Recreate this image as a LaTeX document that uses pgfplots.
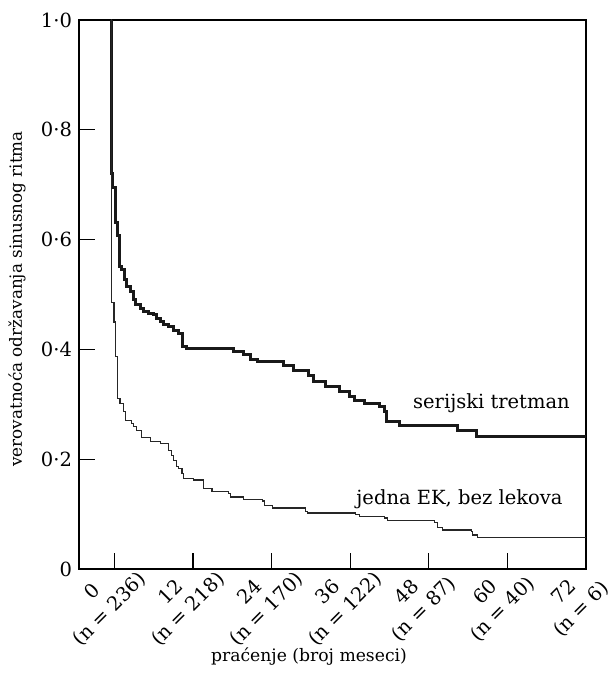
\documentclass[border=0pt]{standalone}
\usepackage{fontspec}
\setmainfont{DejaVu Serif}
\usepackage{pgfplots}
\pgfplotsset{compat=1.18}
\usetikzlibrary{calc}

\newcommand{\chartfont}{\fontsize{9.75pt}{12pt}\selectfont}

\begin{document}
\begin{tikzpicture}
\begin{axis}[
    scale only axis,
    width=253.5pt,
    height=274.5pt,
    xmin=-5.4, xmax=72,
    ymin=0, ymax=1,
    axis line style={line width=0.6pt},
    tick style={line width=0.6pt, black},
    tick align=inside,
    major tick length=8pt,
    xtick pos=left,
    ytick pos=left,
    xtick={0,12,24,36,48,60,72},
    xticklabels={{0\\(n = 236)},{12\\(n = 218)},{24\\(n = 170)},{36\\(n = 122)},{48\\(n = 87)},{60\\(n = 40)},{72\\(n = 6)}},
    ytick={0,0.2,0.4,0.6,0.8,1},
    yticklabels={0,0·2,0·4,0·6,0·8,1·0},
    tick label style={font=\chartfont},
    xticklabel style={xshift=-6.5pt, yshift=-16pt, rotate=45, anchor=center, align=center},
    xlabel={praćenje (broj meseci)},
    xlabel style={font=\fontsize{8.6pt}{11pt}\selectfont, at={(axis description cs:0.4536,0)}, anchor=base, yshift=-46pt},
    ylabel={verovatnoća održavanja sinusnog ritma},
    ylabel style={font=\fontsize{8.4pt}{11pt}\selectfont, at={(axis description cs:-0.1223,0.492)}, anchor=center},
    clip=false,
]
% serijski tretman
\addplot[const plot, line width=1.5pt, black!90] coordinates {
    (-0.45,1.0) (-0.45,0.720) (-0.3,0.694) (0.1,0.631) (0.5,0.608) (0.74,0.551)
    (1.12,0.545) (1.53,0.527) (1.88,0.514) (2.40,0.505) (2.91,0.490) (3.26,0.481)
    (3.94,0.475) (4.44,0.469) (5.21,0.466) (5.97,0.463) (6.48,0.457) (7.0,0.450)
    (7.5,0.446) (8.27,0.441) (9.04,0.435) (9.80,0.429) (10.41,0.405) (11.07,0.402)
    (18.22,0.396) (19.75,0.390) (20.78,0.381) (21.79,0.378) (25.88,0.370) (27.41,0.361)
    (29.71,0.353) (30.47,0.341) (32.27,0.332) (34.30,0.323) (35.83,0.314) (36.6,0.307)
    (38.13,0.301) (40.43,0.296) (41.19,0.287) (41.55,0.268) (43.49,0.262) (52.42,0.252)
    (55.24,0.242) (72,0.242)
};
% jedna EK, bez lekova
\addplot[const plot, line width=0.6pt, black!85] coordinates {
    (-0.45,1.0) (-0.41,0.485) (-0.05,0.450) (0.2,0.387) (0.46,0.311) (0.87,0.302)
    (1.38,0.287) (1.73,0.271) (2.56,0.265) (2.91,0.259) (3.41,0.252) (4.18,0.240)
    (5.47,0.232) (7.0,0.229) (8.27,0.216) (8.77,0.207) (9.04,0.198) (9.54,0.186)
    (9.80,0.183) (10.31,0.174) (10.57,0.165) (12.10,0.162) (13.63,0.147) (14.9,0.141)
    (17.46,0.138) (17.72,0.131) (19.75,0.127) (22.56,0.124) (22.97,0.115) (24.09,0.111)
    (29.20,0.105) (29.45,0.102) (36.86,0.099) (37.37,0.096) (41.19,0.093) (41.7,0.088)
    (48.85,0.085) (49.36,0.076) (50.12,0.071) (54.47,0.068) (54.71,0.062) (55.48,0.057)
    (72,0.057)
};
\node[font=\chartfont, anchor=base east] at (axis cs:70.6,0.293) {serijski tretman};
\node[font=\chartfont, anchor=base east] at (axis cs:69.5,0.118) {jedna EK, bez lekova};
\end{axis}
\pgfresetboundingbox
\path ($(current axis.south west)+(-39.5pt,-55pt)$) rectangle ($(current axis.south west)+(264pt,284.5pt)$);
\end{tikzpicture}
\end{document}
